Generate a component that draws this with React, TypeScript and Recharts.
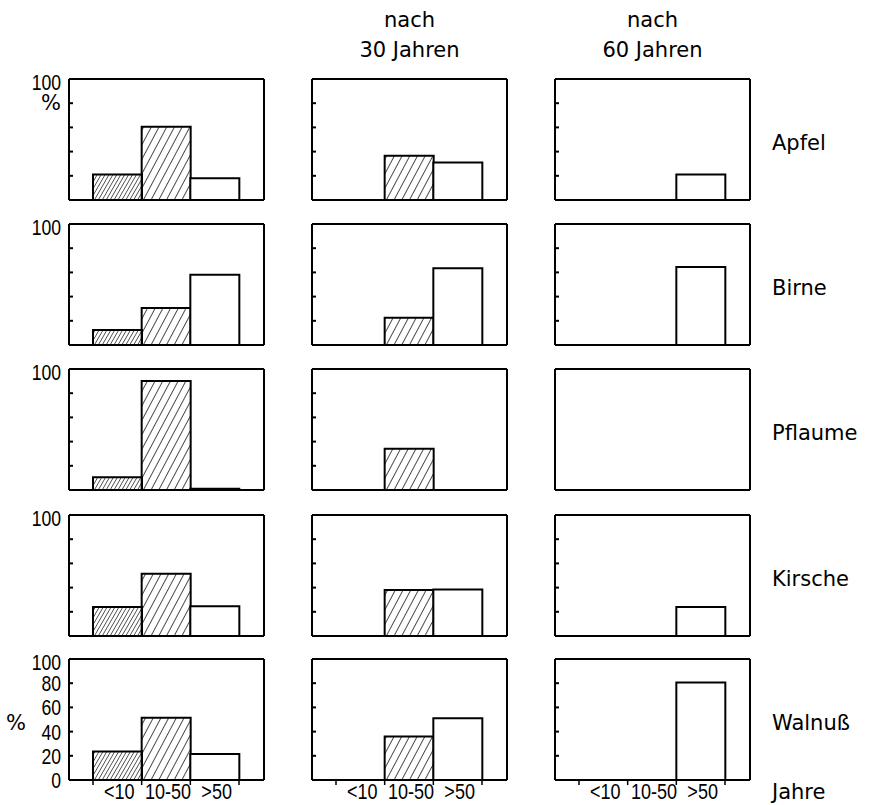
import React from "react";
import { BarChart, Bar, XAxis, YAxis, Cell } from "recharts";

const CATEGORIES = ["<10", "10-50", ">50"];
const FRUITS = ["Apfel", "Birne", "Pflaume", "Kirsche", "Walnuß"];
const PERIOD_HEADERS = [[], ["nach", "30 Jahren"], ["nach", "60 Jahren"]];
const Y_TICKS = [0, 20, 40, 60, 80, 100];

// Anteil in % je Altersklasse: [heute, nach 30 Jahren, nach 60 Jahren]
const apfel = [[21, 60.5, 18], [null, 36.5, 31], [null, null, 21]];
const birne = [[12.5, 30.5, 58], [null, 22.5, 63.5], [null, null, 64.5]];
const pflaume = [[10.5, 90, 1], [null, 34, null], [null, null, null]];
const kirsche = [[24, 51.5, 24.5], [null, 38, 38.5], [null, null, 24]];
const walnuss = [[23.5, 51.5, 21.5], [null, 36, 51], [null, null, 80.5]];

const SERIES = [apfel, birne, pflaume, kirsche, walnuss];

const COL_X = [69, 312, 555];
const ROW_Y = [79, 224, 369, 515, 659];
const BOX_W = 195;
const BOX_H = 121;
const AXIS_W = 60;
const PAD_L = 24;
const PAD_R = 25;
const BAND = (BOX_W - PAD_L - PAD_R) / 3;

const NUM_FONT = "'Liberation Sans', Arial, sans-serif";
const TEXT_FONT = "'DejaVu Sans', sans-serif";

// narrow, DIN-like numerals: squeeze Liberation Sans horizontally
function NarrowText({ x, y, anchor, scale, children }: any) {
  return (
    <text
      transform={`translate(${x},${y}) scale(${scale},1)`}
      textAnchor={anchor}
      fontFamily={NUM_FONT}
      fontSize={22}
      fill="#000"
    >
      {children}
    </text>
  );
}

function YTick(props: any) {
  const { x, y, payload, labels } = props;
  const v = payload.value;
  return (
    <g>
      {v > 0 && v < 100 && (
        <line x1={x} x2={x + 4} y1={y} y2={y} stroke="#000" strokeWidth={2} />
      )}
      {labels.includes(v) && (
        <NarrowText x={x - 8} y={y + (v === 100 ? 11 : 8)} anchor="end" scale={0.8}>
          {v}
        </NarrowText>
      )}
    </g>
  );
}

function XTick(props: any) {
  const { x, y, payload, index } = props;
  const half = BAND / 2;
  return (
    <g>
      <line x1={x - half} x2={x - half} y1={y} y2={y + 5} stroke="#000" strokeWidth={1.5} />
      {index === 2 && (
        <line x1={x + half} x2={x + half} y1={y} y2={y + 5} stroke="#000" strokeWidth={1.5} />
      )}
      <NarrowText x={x + 2} y={y + 19} anchor="middle" scale={0.82}>
        {payload.value}
      </NarrowText>
    </g>
  );
}

function Panel({ row, col }: { row: number; col: number }) {
  const values = SERIES[row][col];
  const data = CATEGORIES.map((name, i) => ({ name, v: values[i] }));
  const id = `${row}-${col}`;
  const fills = [`url(#dense-${id})`, `url(#sparse-${id})`, "#fff"];
  const last = row === SERIES.length - 1;
  const yLabels = col === 0 ? (last ? Y_TICKS : [100]) : [];

  return (
    <div
      style={{
        position: "absolute",
        left: COL_X[col] - AXIS_W,
        top: ROW_Y[row] - 4,
      }}
    >
      <BarChart
        width={AXIS_W + BOX_W + 4}
        height={4 + BOX_H + 30}
        data={data}
        margin={{ top: 3, right: 3, bottom: 0, left: 0 }}
        barCategoryGap={0}
      >
        <defs>
          <pattern
            id={`dense-${id}`}
            patternUnits="userSpaceOnUse"
            width={3.4}
            height={10}
            patternTransform="rotate(30)"
          >
            <line x1={0} y1={0} x2={0} y2={10} stroke="#000" strokeWidth={1.2} />
          </pattern>
          <pattern
            id={`sparse-${id}`}
            patternUnits="userSpaceOnUse"
            width={6.8}
            height={10}
            patternTransform="rotate(28)"
          >
            <line x1={0} y1={0} x2={0} y2={10} stroke="#000" strokeWidth={1.4} />
          </pattern>
        </defs>
        <XAxis
          dataKey="name"
          padding={{ left: PAD_L, right: PAD_R }}
          height={30}
          interval={0}
          tickSize={0}
          tickMargin={0}
          tickLine={false}
          axisLine={{ stroke: "#000", strokeWidth: 2 }}
          tick={last ? <XTick /> : false}
        />
        <XAxis
          xAxisId="top"
          orientation="top"
          dataKey="name"
          height={1}
          tick={false}
          tickLine={false}
          axisLine={{ stroke: "#000", strokeWidth: 2 }}
        />
        <YAxis
          type="number"
          domain={[0, 100]}
          ticks={Y_TICKS}
          width={AXIS_W}
          interval={0}
          tickSize={0}
          tickMargin={0}
          tickLine={false}
          axisLine={{ stroke: "#000", strokeWidth: 2 }}
          tick={<YTick labels={yLabels} />}
        />
        <YAxis
          yAxisId="right"
          orientation="right"
          type="number"
          domain={[0, 100]}
          width={1}
          tick={false}
          tickLine={false}
          axisLine={{ stroke: "#000", strokeWidth: 2 }}
        />
        <Bar dataKey="v" stroke="#000" strokeWidth={2} isAnimationActive={false}>
          {data.map((d, i) => (
            <Cell key={d.name} fill={fills[i]} />
          ))}
        </Bar>
      </BarChart>
    </div>
  );
}

export default function App() {
  return (
    <div
      style={{
        position: "absolute",
        left: 0,
        top: 0,
        width: 869,
        height: 805,
        background: "#fff",
      }}
    >
      {SERIES.map((_, r) =>
        COL_X.map((__, c) => <Panel key={`${r}-${c}`} row={r} col={c} />)
      )}
      <svg
        width={869}
        height={805}
        style={{ position: "absolute", left: 0, top: 0, pointerEvents: "none" }}
      >
        {PERIOD_HEADERS.map((lines, c) =>
          lines.map((t, i) => (
            <text
              key={`h-${c}-${i}`}
              x={COL_X[c] + BOX_W / 2}
              y={27 + i * 30}
              textAnchor="middle"
              fontFamily={TEXT_FONT}
              fontSize={21}
              fill="#000"
            >
              {t}
            </text>
          ))
        )}
        {FRUITS.map((f, r) => (
          <text
            key={f}
            x={772}
            y={ROW_Y[r] + 71}
            fontFamily={TEXT_FONT}
            fontSize={21}
            fill="#000"
          >
            {f}
          </text>
        ))}
        <text x={772} y={799} fontFamily={TEXT_FONT} fontSize={21} fill="#000">
          Jahre
        </text>
        <text x={61} y={110} textAnchor="end" fontFamily={TEXT_FONT} fontSize={21} fill="#000">
          %
        </text>
        <text x={6} y={730} fontFamily={TEXT_FONT} fontSize={21} fill="#000">
          %
        </text>
      </svg>
    </div>
  );
}
